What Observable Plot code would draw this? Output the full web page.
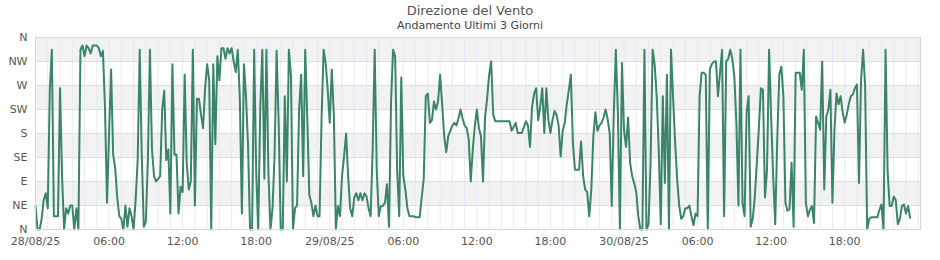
<!DOCTYPE html>
<html><head><meta charset="utf-8">
<script src="https://cdn.jsdelivr.net/npm/d3@7"></script>
<script src="https://cdn.jsdelivr.net/npm/@observablehq/plot@0.6"></script>
<style>
body{margin:0;background:#fff;font-family:"DejaVu Sans",sans-serif;}
#wrap{position:relative;width:940px;height:260px;overflow:hidden;}
#title{position:absolute;top:3px;left:0;width:940px;text-align:center;font-size:13px;line-height:15px;color:#555;}
#sub{position:absolute;top:19px;left:0;width:940px;text-align:center;font-size:11px;line-height:13px;color:#444;}
#chart{position:absolute;top:0;left:0;}
</style></head>
<body>
<div id="wrap">
<div id="chart"></div>
<div id="title">Direzione del Vento</div>
<div id="sub">Andamento Ultimi 3 Giorni</div>
</div>
<script>
// Sampling: one reading every 10 minutes from 28/08/25 00:00
const startTime = "2025-08-28T00:00:00Z";
const endTime = "2025-08-31T00:11:00Z";
const lastTick = "2025-08-30T18:00:00Z";
const stepMinutes = 10;

// Wind direction readings (degrees, 0 = N)
const windDir = [
44,0,0,20,55,68,40,262,337,25,25,25,265,100,0,40,30,45,45,0,
40,0,337,345,325,345,340,330,345,345,345,340,325,335,230,50,180,300,140,115,
60,25,20,0,45,5,40,25,0,55,130,337,140,5,15,130,337,150,100,90,
95,100,225,260,130,150,30,310,140,140,30,80,70,290,125,75,90,337,45,245,
245,215,190,265,310,280,0,310,160,325,280,340,340,320,340,330,340,315,295,337,
245,30,310,250,160,0,0,337,110,0,230,337,95,337,105,0,40,140,335,200,
0,0,250,90,337,290,0,40,45,225,290,100,337,210,65,50,25,45,25,25,
210,337,312,262,200,300,215,0,44,25,100,137,180,100,40,25,60,68,55,68,
55,68,62,40,25,150,337,110,25,44,44,50,85,5,240,337,325,110,25,285,
100,75,40,25,25,25,23,23,23,60,95,250,255,200,205,240,225,240,290,235,
175,145,175,185,195,200,195,208,225,208,195,190,170,90,150,195,225,190,175,90,
210,245,290,315,215,203,203,203,203,203,203,203,203,185,192,200,181,181,181,192,
203,195,155,230,255,265,205,230,265,181,265,205,181,205,222,215,195,137,185,200,
235,262,290,162,112,112,112,165,100,75,70,25,75,175,220,185,195,200,210,225,
207,180,44,215,337,220,0,312,187,155,210,125,100,87,70,25,0,0,337,0,
10,125,337,310,250,150,10,250,87,290,0,337,250,165,95,45,20,25,40,40,
45,25,8,30,25,250,294,294,290,0,300,310,315,315,250,294,337,25,315,320,
337,320,287,200,45,337,50,25,220,250,5,20,60,125,190,265,262,60,112,337,
212,100,10,170,290,305,250,50,35,38,125,5,294,294,294,262,337,50,25,37,
44,12,212,200,187,315,75,212,225,262,50,187,255,235,250,220,200,215,235,250,
253,265,272,87,280,337,270,0,20,23,23,23,23,37,47,0,337,110,44,44,
62,55,10,20,44,47,30,44,22
];

// Compass axis
const dirTicks = [0,45,90,135,180,225,270,315,360];
const dirLabels = ["N","NE","E","SE","S","SW","W","NW","N"];
const shadedBands = [[45,90],[135,180],[225,270],[315,360]];

const t0 = new Date(startTime);
const t1 = new Date(endTime);
const data = windDir.map((v,i)=>({t:new Date(t0.getTime()+i*stepMinutes*60000), v}));
const hours = d3.utcHours(t0, t1);
const xTicks = d3.utcHour.every(6).range(t0, new Date(new Date(lastTick).getTime()+1));
const fmtDate = d3.utcFormat("%d/%m/%y");
const fmtHour = d3.utcFormat("%H:%M");

const chart = Plot.plot({
  width: 940, height: 260,
  marginTop: 37, marginBottom: 31, marginLeft: 35, marginRight: 20,
  style: {fontFamily: "'DejaVu Sans', sans-serif", fontSize: "11px", color: "#555", background: "transparent", overflow: "visible"},
  x: {type: "utc", domain: [t0, t1], ticks: xTicks, tickFormat: d => d.getUTCHours() === 0 ? fmtDate(d) : fmtHour(d), tickSize: 0, tickPadding: 8, label: null},
  y: {domain: [0,360], ticks: dirTicks, tickFormat: d => dirLabels[dirTicks.indexOf(d)], tickSize: 0, tickPadding: 8, label: null},
  marks: [
    Plot.rect(shadedBands, {x1: () => t0, x2: () => t1, y1: d => d[0], y2: d => d[1], fill: "#f2f2f2"}),
    Plot.ruleX(hours, {stroke: "#e8e8fa", strokeWidth: 1}),
    Plot.ruleY(dirTicks, {stroke: "#dedede", strokeWidth: 1}),
    Plot.lineY(data, {x: "t", y: "v", stroke: "#3a8468", strokeWidth: 2, curve: "linear"}),
    Plot.frame({stroke: "#d8d8d8"})
  ]
});
document.getElementById("chart").appendChild(chart);
</script>
</body></html>
